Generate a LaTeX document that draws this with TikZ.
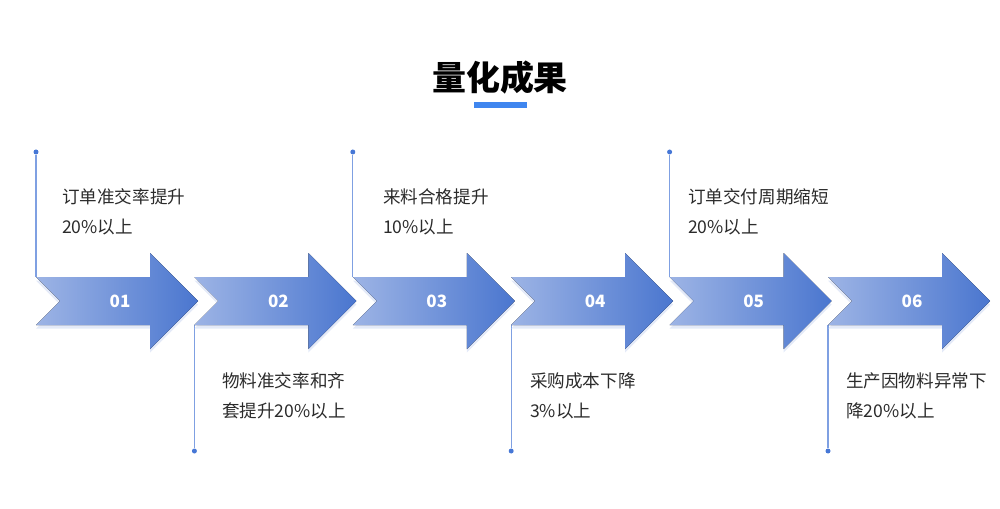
\documentclass[tikz,border=0pt]{standalone}
\usepackage{fontspec}
\setmainfont{Noto Sans CJK SC}
\usetikzlibrary{shadows}
\definecolor{arrowlight}{HTML}{9DB4E5}
\definecolor{arrowdark}{HTML}{4A76CF}
\definecolor{linkblue}{HTML}{7FA0E2}
\definecolor{dotblue}{HTML}{4677D6}
\definecolor{titlebar}{HTML}{3F86EF}
\definecolor{txtgray}{HTML}{2B2B2B}

\begin{document}
\begin{tikzpicture}[
x=0.03cm, y=-0.03cm,
font=\fontsize{15}{25.6}\selectfont,
stepshape/.style={left color=arrowlight, right color=arrowdark, draw=none,
  drop shadow={shadow xshift=0pt, shadow yshift=-3pt, fill=arrowdark!30, opacity=0.5}},
numlabel/.style={text=white, font=\fontsize{14.5}{14.5}\selectfont\bfseries},
note/.style={text=txtgray, align=left, inner sep=0pt, anchor=west},
dotmark/.style={circle, fill=dotblue, inner sep=0pt, minimum size=0.15cm},
linkline/.style={draw=linkblue, line width=1pt}
]
\useasboundingbox (0,0) rectangle (1000,509);

\node[text=black, font=\fontsize{29}{29}\selectfont\bfseries] (title) at (500,78) {量化成果};
\fill[titlebar] (474,102) rectangle (527,108);

\foreach \i/\lab/\tx/\txt in {
  1/01/62/{订单准交率提升\\20\%以上},
  2/02/222/{物料准交率和齐\\套提升20\%以上},
  3/03/383/{来料合格提升\\10\%以上},
  4/04/530/{采购成本下降\\3\%以上},
  5/05/688/{订单交付周期缩短\\20\%以上},
  6/06/846/{生产因物料异常下\\降20\%以上}}
{
  \pgfmathsetmacro\L{36+158.4*(\i-1)}
  \pgfmathsetmacro\ya{isodd(\i) ? 152 : 451}
  \pgfmathsetmacro\yb{isodd(\i) ? 277 : 325}
  \pgfmathsetmacro\yt{isodd(\i) ? 212 : 396}
  \node[dotmark] (dot\i) at (\L,\ya) {};
  \coordinate (foot\i) at (\L,\yb);
  \draw[linkline] (dot\i) -- (foot\i);
  \fill[stepshape] (\L,277) -- (\L+114,277) -- (\L+114,253) -- (\L+162,301)
    -- (\L+114,349) -- (\L+114,325) -- (\L,325) -- (\L+24,301) -- cycle;
  \node[numlabel] (num\i) at (\L+84,301) {\lab};
  \node[note] (note\i) at (\tx,\yt) {\txt};
}
\end{tikzpicture}
\end{document}
